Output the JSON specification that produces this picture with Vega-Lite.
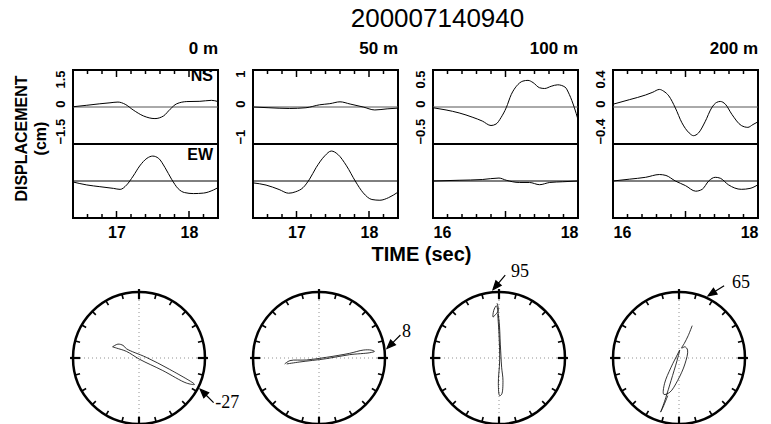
{
  "$schema": "https://vega.github.io/schema/vega-lite/v6.json",
  "background": "white",
  "padding": {"left": 11, "top": 6, "right": 5, "bottom": 0},
  "title": {"text": "200007140940", "fontSize": 26, "fontWeight": "normal", "font": "Liberation Sans", "anchor": "middle", "offset": 7, "dx": 51, "color": "black"},
  "columns": 4,
  "spacing": {"row": 74, "column": 35},
  "bounds": "flush",
  "concat": [
    {
      "width": 145, "height": 148,
      "title": {"text": "0 m", "anchor": "end", "frame": "group", "fontSize": 17, "fontWeight": "bold", "font": "Liberation Sans", "offset": 9, "color": "black"},
      "view": {"stroke": "black", "strokeWidth": 2},
      "layer": [
        {"data": {"values": [{}]}, "mark": {"type": "rule", "color": "#555", "strokeWidth": 1}, "encoding": {"y": {"datum": 0}}},
        {"data": {"values": [{}]}, "mark": {"type": "rule", "color": "black", "strokeWidth": 1}, "encoding": {"y": {"datum": -3}}},
        {"data": {"values": [{}]}, "mark": {"type": "rule", "color": "black", "strokeWidth": 2}, "encoding": {"y": {"datum": -1.5}}},
        {"data": {"values": [{"t": 17}, {"t": 18}]}, "mark": {"type": "point", "shape": "M0,0L0,-1", "size": 196, "filled": false, "stroke": "black", "strokeWidth": 1.5, "opacity": 1},
         "encoding": {"x": {"field": "t", "type": "quantitative"}, "y": {"datum": -4.5}}},
        {"data": {"values": [{"t": 17}, {"t": 18}]}, "mark": {"type": "point", "shape": "M0,0L0,1", "size": 196, "filled": false, "stroke": "black", "strokeWidth": 1.5, "opacity": 1},
         "encoding": {"x": {"field": "t", "type": "quantitative"}, "y": {"datum": 1.5}}},
        {"data": {"values": [{"t": 16.6}, {"t": 16.8}, {"t": 17.2}, {"t": 17.4}, {"t": 17.6}, {"t": 17.8}, {"t": 18.2}]}, "mark": {"type": "point", "shape": "M0,0L0,-1", "size": 64, "filled": false, "stroke": "black", "strokeWidth": 1.5, "opacity": 1},
         "encoding": {"x": {"field": "t", "type": "quantitative"}, "y": {"datum": -4.5}}},
        {"data": {"values": [{"t": 16.6}, {"t": 16.8}, {"t": 17.2}, {"t": 17.4}, {"t": 17.6}, {"t": 17.8}, {"t": 18.2}]}, "mark": {"type": "point", "shape": "M0,0L0,1", "size": 64, "filled": false, "stroke": "black", "strokeWidth": 1.5, "opacity": 1},
         "encoding": {"x": {"field": "t", "type": "quantitative"}, "y": {"datum": 1.5}}},
        {"data": {"name": "ns0"}, "mark": {"type": "line", "color": "black", "strokeWidth": 1, "interpolate": "monotone"},
         "encoding": {
           "x": {"field": "t", "type": "quantitative", "scale": {"domain": [16.4, 18.4], "nice": false, "zero": false},
                 "axis": {"orient": "bottom", "values": [17, 18], "format": "d", "title": null, "domain": false, "grid": false, "ticks": false,
                          "labelFont": "Liberation Sans", "labelFontSize": 16, "labelFontWeight": "bold", "labelColor": "black", "labelPadding": 6, "labelOverlap": false}},
           "y": {"field": "v", "type": "quantitative", "scale": {"domain": [-4.5, 1.5], "nice": false, "zero": false},
                 "axis": {"values": [1.5, 0, -1.5], "labelExpr": "datum.value == 0 ? '0' : format(datum.value, '.1f')", "ticks": false, "domain": false, "grid": false, "labelAngle": 270, "labelBaseline": "bottom",
                          "labelAlign": {"condition": {"test": "datum.value < 0", "value": "left"}, "value": "right"},
                          "labelOffset": {"condition": {"test": "datum.value == 0", "value": -7}, "value": 0},
                          "labelFont": "Liberation Sans", "labelFontSize": 13, "labelFontWeight": "bold", "labelColor": "black", "labelPadding": 6,
                          "title": ["DISPLACEMENT", "(cm)"], "titleFont": "Liberation Sans", "titleFontSize": 16, "titleFontWeight": "bold", "titleColor": "black", "titleLineHeight": 19, "titleY": 68, "titlePadding": 6}}
         }},
        {"data": {"name": "ew0"}, "transform": [{"calculate": "datum.v - 3", "as": "vs"}],
         "mark": {"type": "line", "color": "black", "strokeWidth": 1, "interpolate": "monotone"},
         "encoding": {"x": {"field": "t", "type": "quantitative"}, "y": {"field": "vs", "type": "quantitative"}}},
        {"data": {"values": [{"lab": "NS"}]}, "mark": {"type": "text", "align": "right", "baseline": "top", "dx": -5, "dy": -2, "font": "Liberation Sans", "fontSize": 16, "fontWeight": "bold", "color": "black"},
         "encoding": {"x": {"datum": 18.4}, "y": {"datum": 1.5}, "text": {"field": "lab"}}},
        {"data": {"values": [{"lab": "EW"}]}, "mark": {"type": "text", "align": "right", "baseline": "top", "dx": -5, "dy": 3, "font": "Liberation Sans", "fontSize": 16, "fontWeight": "bold", "color": "black"},
         "encoding": {"x": {"datum": 18.4}, "y": {"datum": -1.5}, "text": {"field": "lab"}}}
      ]
    },
    {
      "width": 145, "height": 148,
      "title": {"text": "50 m", "anchor": "end", "frame": "group", "fontSize": 17, "fontWeight": "bold", "font": "Liberation Sans", "offset": 9, "color": "black"},
      "view": {"stroke": "black", "strokeWidth": 2},
      "layer": [
        {"data": {"values": [{}]}, "mark": {"type": "rule", "color": "#555", "strokeWidth": 1}, "encoding": {"y": {"datum": 0}}},
        {"data": {"values": [{}]}, "mark": {"type": "rule", "color": "black", "strokeWidth": 1}, "encoding": {"y": {"datum": -2}}},
        {"data": {"values": [{}]}, "mark": {"type": "rule", "color": "black", "strokeWidth": 2}, "encoding": {"y": {"datum": -1}}},
        {"data": {"values": [{"t": 17}, {"t": 18}]}, "mark": {"type": "point", "shape": "M0,0L0,-1", "size": 196, "filled": false, "stroke": "black", "strokeWidth": 1.5, "opacity": 1},
         "encoding": {"x": {"field": "t", "type": "quantitative"}, "y": {"datum": -3}}},
        {"data": {"values": [{"t": 17}, {"t": 18}]}, "mark": {"type": "point", "shape": "M0,0L0,1", "size": 196, "filled": false, "stroke": "black", "strokeWidth": 1.5, "opacity": 1},
         "encoding": {"x": {"field": "t", "type": "quantitative"}, "y": {"datum": 1}}},
        {"data": {"values": [{"t": 16.6}, {"t": 16.8}, {"t": 17.2}, {"t": 17.4}, {"t": 17.6}, {"t": 17.8}, {"t": 18.2}]}, "mark": {"type": "point", "shape": "M0,0L0,-1", "size": 64, "filled": false, "stroke": "black", "strokeWidth": 1.5, "opacity": 1},
         "encoding": {"x": {"field": "t", "type": "quantitative"}, "y": {"datum": -3}}},
        {"data": {"values": [{"t": 16.6}, {"t": 16.8}, {"t": 17.2}, {"t": 17.4}, {"t": 17.6}, {"t": 17.8}, {"t": 18.2}]}, "mark": {"type": "point", "shape": "M0,0L0,1", "size": 64, "filled": false, "stroke": "black", "strokeWidth": 1.5, "opacity": 1},
         "encoding": {"x": {"field": "t", "type": "quantitative"}, "y": {"datum": 1}}},
        {"data": {"name": "ns50"}, "mark": {"type": "line", "color": "black", "strokeWidth": 1, "interpolate": "monotone"},
         "encoding": {
           "x": {"field": "t", "type": "quantitative", "scale": {"domain": [16.4, 18.4], "nice": false, "zero": false},
                 "axis": {"orient": "bottom", "values": [17, 18], "format": "d", "domain": false, "grid": false, "ticks": false,
                          "labelFont": "Liberation Sans", "labelFontSize": 16, "labelFontWeight": "bold", "labelColor": "black", "labelPadding": 6, "labelOverlap": false,
                          "title": "TIME (sec)", "titleX": 168, "titleY": 26, "titleAlign": "center", "titleBaseline": "top", "titleFont": "Liberation Sans", "titleFontSize": 20, "titleFontWeight": "bold", "titleColor": "black"}},
           "y": {"field": "v", "type": "quantitative", "scale": {"domain": [-3, 1], "nice": false, "zero": false},
                 "axis": {"values": [1, 0, -1], "labelExpr": "datum.value == 0 ? '0' : format(datum.value, 'd')", "ticks": false, "domain": false, "grid": false, "labelAngle": 270, "labelBaseline": "bottom",
                          "labelAlign": {"condition": {"test": "datum.value < 0", "value": "left"}, "value": "right"},
                          "labelOffset": {"condition": {"test": "datum.value == 0", "value": -7}, "value": 0},
                          "labelFont": "Liberation Sans", "labelFontSize": 13, "labelFontWeight": "bold", "labelColor": "black", "labelPadding": 6, "title": null}}
         }},
        {"data": {"name": "ew50"}, "transform": [{"calculate": "datum.v - 2", "as": "vs"}],
         "mark": {"type": "line", "color": "black", "strokeWidth": 1, "interpolate": "monotone"},
         "encoding": {"x": {"field": "t", "type": "quantitative"}, "y": {"field": "vs", "type": "quantitative"}}}
      ]
    },
    {
      "width": 145, "height": 148,
      "title": {"text": "100 m", "anchor": "end", "frame": "group", "fontSize": 17, "fontWeight": "bold", "font": "Liberation Sans", "offset": 9, "color": "black"},
      "view": {"stroke": "black", "strokeWidth": 2},
      "layer": [
        {"data": {"values": [{}]}, "mark": {"type": "rule", "color": "#555", "strokeWidth": 1}, "encoding": {"y": {"datum": 0}}},
        {"data": {"values": [{}]}, "mark": {"type": "rule", "color": "black", "strokeWidth": 1}, "encoding": {"y": {"datum": -1}}},
        {"data": {"values": [{}]}, "mark": {"type": "rule", "color": "black", "strokeWidth": 2}, "encoding": {"y": {"datum": -0.5}}},
        {"data": {"values": [{"t": 17}]}, "mark": {"type": "point", "shape": "M0,0L0,-1", "size": 196, "filled": false, "stroke": "black", "strokeWidth": 1.5, "opacity": 1},
         "encoding": {"x": {"field": "t", "type": "quantitative"}, "y": {"datum": -1.5}}},
        {"data": {"values": [{"t": 17}]}, "mark": {"type": "point", "shape": "M0,0L0,1", "size": 196, "filled": false, "stroke": "black", "strokeWidth": 1.5, "opacity": 1},
         "encoding": {"x": {"field": "t", "type": "quantitative"}, "y": {"datum": 0.5}}},
        {"data": {"values": [{"t": 16.2}, {"t": 16.4}, {"t": 16.6}, {"t": 16.8}, {"t": 17.2}, {"t": 17.4}, {"t": 17.6}, {"t": 17.8}]}, "mark": {"type": "point", "shape": "M0,0L0,-1", "size": 64, "filled": false, "stroke": "black", "strokeWidth": 1.5, "opacity": 1},
         "encoding": {"x": {"field": "t", "type": "quantitative"}, "y": {"datum": -1.5}}},
        {"data": {"values": [{"t": 16.2}, {"t": 16.4}, {"t": 16.6}, {"t": 16.8}, {"t": 17.2}, {"t": 17.4}, {"t": 17.6}, {"t": 17.8}]}, "mark": {"type": "point", "shape": "M0,0L0,1", "size": 64, "filled": false, "stroke": "black", "strokeWidth": 1.5, "opacity": 1},
         "encoding": {"x": {"field": "t", "type": "quantitative"}, "y": {"datum": 0.5}}},
        {"data": {"name": "ns100"}, "mark": {"type": "line", "color": "black", "strokeWidth": 1, "interpolate": "monotone"},
         "encoding": {
           "x": {"field": "t", "type": "quantitative", "scale": {"domain": [16, 18], "nice": false, "zero": false},
                 "axis": {"orient": "bottom", "values": [16, 17, 18], "format": "d", "title": null, "domain": false, "grid": false, "ticks": false,
                          "labelFont": "Liberation Sans", "labelFontSize": 16, "labelFontWeight": "bold", "labelColor": "black", "labelPadding": 6, "labelOverlap": false, "labelFlush": true}},
           "y": {"field": "v", "type": "quantitative", "scale": {"domain": [-1.5, 0.5], "nice": false, "zero": false},
                 "axis": {"values": [0.5, 0, -0.5], "labelExpr": "datum.value == 0 ? '0' : format(datum.value, '.1f')", "ticks": false, "domain": false, "grid": false, "labelAngle": 270, "labelBaseline": "bottom",
                          "labelAlign": {"condition": {"test": "datum.value < 0", "value": "left"}, "value": "right"},
                          "labelOffset": {"condition": {"test": "datum.value == 0", "value": -7}, "value": 0},
                          "labelFont": "Liberation Sans", "labelFontSize": 13, "labelFontWeight": "bold", "labelColor": "black", "labelPadding": 6, "title": null}}
         }},
        {"data": {"name": "ew100"}, "transform": [{"calculate": "datum.v - 1", "as": "vs"}],
         "mark": {"type": "line", "color": "black", "strokeWidth": 1, "interpolate": "monotone"},
         "encoding": {"x": {"field": "t", "type": "quantitative"}, "y": {"field": "vs", "type": "quantitative"}}}
      ]
    },
    {
      "width": 145, "height": 148,
      "title": {"text": "200 m", "anchor": "end", "frame": "group", "fontSize": 17, "fontWeight": "bold", "font": "Liberation Sans", "offset": 9, "color": "black"},
      "view": {"stroke": "black", "strokeWidth": 2},
      "layer": [
        {"data": {"values": [{}]}, "mark": {"type": "rule", "color": "#555", "strokeWidth": 1}, "encoding": {"y": {"datum": 0}}},
        {"data": {"values": [{}]}, "mark": {"type": "rule", "color": "black", "strokeWidth": 1}, "encoding": {"y": {"datum": -0.8}}},
        {"data": {"values": [{}]}, "mark": {"type": "rule", "color": "black", "strokeWidth": 2}, "encoding": {"y": {"datum": -0.4}}},
        {"data": {"values": [{"t": 17}]}, "mark": {"type": "point", "shape": "M0,0L0,-1", "size": 196, "filled": false, "stroke": "black", "strokeWidth": 1.5, "opacity": 1},
         "encoding": {"x": {"field": "t", "type": "quantitative"}, "y": {"datum": -1.2}}},
        {"data": {"values": [{"t": 17}]}, "mark": {"type": "point", "shape": "M0,0L0,1", "size": 196, "filled": false, "stroke": "black", "strokeWidth": 1.5, "opacity": 1},
         "encoding": {"x": {"field": "t", "type": "quantitative"}, "y": {"datum": 0.4}}},
        {"data": {"values": [{"t": 16.2}, {"t": 16.4}, {"t": 16.6}, {"t": 16.8}, {"t": 17.2}, {"t": 17.4}, {"t": 17.6}, {"t": 17.8}]}, "mark": {"type": "point", "shape": "M0,0L0,-1", "size": 64, "filled": false, "stroke": "black", "strokeWidth": 1.5, "opacity": 1},
         "encoding": {"x": {"field": "t", "type": "quantitative"}, "y": {"datum": -1.2}}},
        {"data": {"values": [{"t": 16.2}, {"t": 16.4}, {"t": 16.6}, {"t": 16.8}, {"t": 17.2}, {"t": 17.4}, {"t": 17.6}, {"t": 17.8}]}, "mark": {"type": "point", "shape": "M0,0L0,1", "size": 64, "filled": false, "stroke": "black", "strokeWidth": 1.5, "opacity": 1},
         "encoding": {"x": {"field": "t", "type": "quantitative"}, "y": {"datum": 0.4}}},
        {"data": {"name": "ns200"}, "mark": {"type": "line", "color": "black", "strokeWidth": 1, "interpolate": "monotone"},
         "encoding": {
           "x": {"field": "t", "type": "quantitative", "scale": {"domain": [16, 18], "nice": false, "zero": false},
                 "axis": {"orient": "bottom", "values": [16, 17, 18], "format": "d", "title": null, "domain": false, "grid": false, "ticks": false,
                          "labelFont": "Liberation Sans", "labelFontSize": 16, "labelFontWeight": "bold", "labelColor": "black", "labelPadding": 6, "labelOverlap": false, "labelFlush": true}},
           "y": {"field": "v", "type": "quantitative", "scale": {"domain": [-1.2, 0.4], "nice": false, "zero": false},
                 "axis": {"values": [0.4, 0, -0.4], "labelExpr": "datum.value == 0 ? '0' : format(datum.value, '.1f')", "ticks": false, "domain": false, "grid": false, "labelAngle": 270, "labelBaseline": "bottom",
                          "labelAlign": {"condition": {"test": "datum.value < 0", "value": "left"}, "value": "right"},
                          "labelOffset": {"condition": {"test": "datum.value == 0", "value": -7}, "value": 0},
                          "labelFont": "Liberation Sans", "labelFontSize": 13, "labelFontWeight": "bold", "labelColor": "black", "labelPadding": 6, "title": null}}
         }},
        {"data": {"name": "ew200"}, "transform": [{"calculate": "datum.v - 0.8", "as": "vs"}],
         "mark": {"type": "line", "color": "black", "strokeWidth": 1, "interpolate": "monotone"},
         "encoding": {"x": {"field": "t", "type": "quantitative"}, "y": {"field": "vs", "type": "quantitative"}}}
      ]
    },
    {
      "width": 132, "height": 132,
      "layer": [
        {"data": {"values": [{}]}, "mark": {"type": "rule", "color": "#777", "strokeWidth": 0.8, "strokeDash": [1, 3]}, "encoding": {"x": {"datum": 0, "scale": {"domain": [-1, 1], "nice": false, "zero": false}, "axis": null}}},
        {"data": {"values": [{}]}, "mark": {"type": "rule", "color": "#777", "strokeWidth": 0.8, "strokeDash": [1, 3]}, "encoding": {"y": {"datum": 0, "scale": {"domain": [-1, 1], "nice": false, "zero": false}, "axis": null}}},
        {"data": {"values": [{}]}, "mark": {"type": "point", "shape": "circle", "size": 17424, "filled": false, "stroke": "black", "strokeWidth": 2.5, "opacity": 1}, "encoding": {"x": {"datum": 0, "axis": null}, "y": {"datum": 0, "axis": null}}},
        {"data": {"name": "ticks"}, "mark": {"type": "point", "shape": "M0,-1L0,-0.925", "size": 17424, "filled": false, "stroke": "black", "strokeWidth": 1.6, "opacity": 1},
         "encoding": {"x": {"datum": 0, "axis": null}, "y": {"datum": 0, "axis": null}, "angle": {"field": "a", "type": "quantitative", "scale": {"domain": [0, 360], "range": [0, 360]}}}},
        {"data": {"name": "ticks"}, "transform": [{"filter": "datum.a % 90 == 0"}], "mark": {"type": "point", "shape": "M0,-1.045L0,-0.89", "size": 17424, "filled": false, "stroke": "black", "strokeWidth": 2.2, "opacity": 1},
         "encoding": {"x": {"datum": 0, "axis": null}, "y": {"datum": 0, "axis": null}, "angle": {"field": "a", "type": "quantitative", "scale": {"domain": [0, 360], "range": [0, 360]}}}},
        {"data": {"name": "h0"}, "mark": {"type": "line", "color": "black", "strokeWidth": 0.8, "interpolate": "catmull-rom"},
         "encoding": {"x": {"field": "EW", "type": "quantitative", "axis": null}, "y": {"field": "NS", "type": "quantitative", "axis": null}, "order": {"field": "i"}}},
        {"data": {"values": [{"angle": -27}]}, "transform": [{"calculate": "cos(datum.angle*PI/180)*1.04", "as": "tx"}, {"calculate": "sin(datum.angle*PI/180)*1.04", "as": "ty"}],
         "layer": [
           {"mark": {"type": "point", "shape": "M0,0L-0.18,0.45L0.18,0.45Z M0,0.4L0,1", "size": 1444, "filled": true, "fill": "black", "stroke": "black", "strokeWidth": 1.2, "opacity": 1, "angle": 315},
            "encoding": {"x": {"field": "tx", "type": "quantitative", "axis": null}, "y": {"field": "ty", "type": "quantitative", "axis": null}}},
           {"mark": {"type": "text", "align": "left", "baseline": "middle", "dx": 15, "dy": 14, "font": "Liberation Serif", "fontSize": 18, "color": "black"},
            "encoding": {"x": {"field": "tx", "type": "quantitative", "axis": null}, "y": {"field": "ty", "type": "quantitative", "axis": null}, "text": {"field": "angle", "type": "nominal"}}}
         ]}
      ]
    },
    {
      "width": 132, "height": 132,
      "layer": [
        {"data": {"values": [{}]}, "mark": {"type": "rule", "color": "#777", "strokeWidth": 0.8, "strokeDash": [1, 3]}, "encoding": {"x": {"datum": 0, "scale": {"domain": [-1, 1], "nice": false, "zero": false}, "axis": null}}},
        {"data": {"values": [{}]}, "mark": {"type": "rule", "color": "#777", "strokeWidth": 0.8, "strokeDash": [1, 3]}, "encoding": {"y": {"datum": 0, "scale": {"domain": [-1, 1], "nice": false, "zero": false}, "axis": null}}},
        {"data": {"values": [{}]}, "mark": {"type": "point", "shape": "circle", "size": 17424, "filled": false, "stroke": "black", "strokeWidth": 2.5, "opacity": 1}, "encoding": {"x": {"datum": 0, "axis": null}, "y": {"datum": 0, "axis": null}}},
        {"data": {"name": "ticks"}, "mark": {"type": "point", "shape": "M0,-1L0,-0.925", "size": 17424, "filled": false, "stroke": "black", "strokeWidth": 1.6, "opacity": 1},
         "encoding": {"x": {"datum": 0, "axis": null}, "y": {"datum": 0, "axis": null}, "angle": {"field": "a", "type": "quantitative", "scale": {"domain": [0, 360], "range": [0, 360]}}}},
        {"data": {"name": "ticks"}, "transform": [{"filter": "datum.a % 90 == 0"}], "mark": {"type": "point", "shape": "M0,-1.045L0,-0.89", "size": 17424, "filled": false, "stroke": "black", "strokeWidth": 2.2, "opacity": 1},
         "encoding": {"x": {"datum": 0, "axis": null}, "y": {"datum": 0, "axis": null}, "angle": {"field": "a", "type": "quantitative", "scale": {"domain": [0, 360], "range": [0, 360]}}}},
        {"data": {"name": "h50"}, "mark": {"type": "line", "color": "black", "strokeWidth": 0.8, "interpolate": "catmull-rom"},
         "encoding": {"x": {"field": "EW", "type": "quantitative", "axis": null}, "y": {"field": "NS", "type": "quantitative", "axis": null}, "order": {"field": "i"}}},
        {"data": {"values": [{"angle": 8}]}, "transform": [{"calculate": "cos(datum.angle*PI/180)*1.04", "as": "tx"}, {"calculate": "sin(datum.angle*PI/180)*1.04", "as": "ty"}],
         "layer": [
           {"mark": {"type": "point", "shape": "M0,0L-0.18,0.45L0.18,0.45Z M0,0.4L0,1", "size": 1444, "filled": true, "fill": "black", "stroke": "black", "strokeWidth": 1.2, "opacity": 1, "angle": 225},
            "encoding": {"x": {"field": "tx", "type": "quantitative", "axis": null}, "y": {"field": "ty", "type": "quantitative", "axis": null}}},
           {"mark": {"type": "text", "align": "left", "baseline": "middle", "dx": 15, "dy": -16, "font": "Liberation Serif", "fontSize": 18, "color": "black"},
            "encoding": {"x": {"field": "tx", "type": "quantitative", "axis": null}, "y": {"field": "ty", "type": "quantitative", "axis": null}, "text": {"field": "angle", "type": "nominal"}}}
         ]}
      ]
    },
    {
      "width": 132, "height": 132,
      "layer": [
        {"data": {"values": [{}]}, "mark": {"type": "rule", "color": "#777", "strokeWidth": 0.8, "strokeDash": [1, 3]}, "encoding": {"x": {"datum": 0, "scale": {"domain": [-1, 1], "nice": false, "zero": false}, "axis": null}}},
        {"data": {"values": [{}]}, "mark": {"type": "rule", "color": "#777", "strokeWidth": 0.8, "strokeDash": [1, 3]}, "encoding": {"y": {"datum": 0, "scale": {"domain": [-1, 1], "nice": false, "zero": false}, "axis": null}}},
        {"data": {"values": [{}]}, "mark": {"type": "point", "shape": "circle", "size": 17424, "filled": false, "stroke": "black", "strokeWidth": 2.5, "opacity": 1}, "encoding": {"x": {"datum": 0, "axis": null}, "y": {"datum": 0, "axis": null}}},
        {"data": {"name": "ticks"}, "mark": {"type": "point", "shape": "M0,-1L0,-0.925", "size": 17424, "filled": false, "stroke": "black", "strokeWidth": 1.6, "opacity": 1},
         "encoding": {"x": {"datum": 0, "axis": null}, "y": {"datum": 0, "axis": null}, "angle": {"field": "a", "type": "quantitative", "scale": {"domain": [0, 360], "range": [0, 360]}}}},
        {"data": {"name": "ticks"}, "transform": [{"filter": "datum.a % 90 == 0"}], "mark": {"type": "point", "shape": "M0,-1.045L0,-0.89", "size": 17424, "filled": false, "stroke": "black", "strokeWidth": 2.2, "opacity": 1},
         "encoding": {"x": {"datum": 0, "axis": null}, "y": {"datum": 0, "axis": null}, "angle": {"field": "a", "type": "quantitative", "scale": {"domain": [0, 360], "range": [0, 360]}}}},
        {"data": {"name": "h100"}, "mark": {"type": "line", "color": "black", "strokeWidth": 0.8, "interpolate": "catmull-rom"},
         "encoding": {"x": {"field": "EW", "type": "quantitative", "axis": null}, "y": {"field": "NS", "type": "quantitative", "axis": null}, "order": {"field": "i"}}},
        {"data": {"values": [{"angle": 95}]}, "transform": [{"calculate": "cos(datum.angle*PI/180)*1.04", "as": "tx"}, {"calculate": "sin(datum.angle*PI/180)*1.04", "as": "ty"}],
         "layer": [
           {"mark": {"type": "point", "shape": "M0,0L-0.18,0.45L0.18,0.45Z M0,0.4L0,1", "size": 1444, "filled": true, "fill": "black", "stroke": "black", "strokeWidth": 1.2, "opacity": 1, "angle": 220},
            "encoding": {"x": {"field": "tx", "type": "quantitative", "axis": null}, "y": {"field": "ty", "type": "quantitative", "axis": null}}},
           {"mark": {"type": "text", "align": "left", "baseline": "middle", "dx": 18, "dy": -18, "font": "Liberation Serif", "fontSize": 18, "color": "black"},
            "encoding": {"x": {"field": "tx", "type": "quantitative", "axis": null}, "y": {"field": "ty", "type": "quantitative", "axis": null}, "text": {"field": "angle", "type": "nominal"}}}
         ]}
      ]
    },
    {
      "width": 132, "height": 132,
      "layer": [
        {"data": {"values": [{}]}, "mark": {"type": "rule", "color": "#777", "strokeWidth": 0.8, "strokeDash": [1, 3]}, "encoding": {"x": {"datum": 0, "scale": {"domain": [-1, 1], "nice": false, "zero": false}, "axis": null}}},
        {"data": {"values": [{}]}, "mark": {"type": "rule", "color": "#777", "strokeWidth": 0.8, "strokeDash": [1, 3]}, "encoding": {"y": {"datum": 0, "scale": {"domain": [-1, 1], "nice": false, "zero": false}, "axis": null}}},
        {"data": {"values": [{}]}, "mark": {"type": "point", "shape": "circle", "size": 17424, "filled": false, "stroke": "black", "strokeWidth": 2.5, "opacity": 1}, "encoding": {"x": {"datum": 0, "axis": null}, "y": {"datum": 0, "axis": null}}},
        {"data": {"name": "ticks"}, "mark": {"type": "point", "shape": "M0,-1L0,-0.925", "size": 17424, "filled": false, "stroke": "black", "strokeWidth": 1.6, "opacity": 1},
         "encoding": {"x": {"datum": 0, "axis": null}, "y": {"datum": 0, "axis": null}, "angle": {"field": "a", "type": "quantitative", "scale": {"domain": [0, 360], "range": [0, 360]}}}},
        {"data": {"name": "ticks"}, "transform": [{"filter": "datum.a % 90 == 0"}], "mark": {"type": "point", "shape": "M0,-1.045L0,-0.89", "size": 17424, "filled": false, "stroke": "black", "strokeWidth": 2.2, "opacity": 1},
         "encoding": {"x": {"datum": 0, "axis": null}, "y": {"datum": 0, "axis": null}, "angle": {"field": "a", "type": "quantitative", "scale": {"domain": [0, 360], "range": [0, 360]}}}},
        {"data": {"name": "h200"}, "mark": {"type": "line", "color": "black", "strokeWidth": 0.8, "interpolate": "catmull-rom"},
         "encoding": {"x": {"field": "EW", "type": "quantitative", "axis": null}, "y": {"field": "NS", "type": "quantitative", "axis": null}, "order": {"field": "i"}}},
        {"data": {"values": [{"angle": 65}]}, "transform": [{"calculate": "cos(datum.angle*PI/180)*1.04", "as": "tx"}, {"calculate": "sin(datum.angle*PI/180)*1.04", "as": "ty"}],
         "layer": [
           {"mark": {"type": "point", "shape": "M0,0L-0.18,0.45L0.18,0.45Z M0,0.4L0,1", "size": 1444, "filled": true, "fill": "black", "stroke": "black", "strokeWidth": 1.2, "opacity": 1, "angle": 238},
            "encoding": {"x": {"field": "tx", "type": "quantitative", "axis": null}, "y": {"field": "ty", "type": "quantitative", "axis": null}}},
           {"mark": {"type": "text", "align": "left", "baseline": "middle", "dx": 24, "dy": -13, "font": "Liberation Serif", "fontSize": 18, "color": "black"},
            "encoding": {"x": {"field": "tx", "type": "quantitative", "axis": null}, "y": {"field": "ty", "type": "quantitative", "axis": null}, "text": {"field": "angle", "type": "nominal"}}}
         ]}
      ]
    }
  ],
  "datasets": {
    "ns0": [
      {"t": 16.40, "v": 0.01}, {"t": 16.59, "v": 0.07}, {"t": 16.77, "v": 0.13}, {"t": 16.91, "v": 0.17}, {"t": 17.02, "v": 0.20},
      {"t": 17.12, "v": 0.11}, {"t": 17.23, "v": -0.12}, {"t": 17.37, "v": -0.36}, {"t": 17.53, "v": -0.47}, {"t": 17.65, "v": -0.36},
      {"t": 17.74, "v": -0.09}, {"t": 17.83, "v": 0.13}, {"t": 17.97, "v": 0.22}, {"t": 18.15, "v": 0.23}, {"t": 18.31, "v": 0.27}, {"t": 18.40, "v": 0.22}
    ],
    "ew0": [
      {"t": 16.40, "v": -0.04}, {"t": 16.59, "v": -0.16}, {"t": 16.77, "v": -0.23}, {"t": 16.96, "v": -0.30}, {"t": 17.05, "v": -0.34},
      {"t": 17.14, "v": -0.16}, {"t": 17.23, "v": 0.20}, {"t": 17.32, "v": 0.61}, {"t": 17.42, "v": 0.92}, {"t": 17.50, "v": 1.01},
      {"t": 17.58, "v": 0.92}, {"t": 17.67, "v": 0.54}, {"t": 17.76, "v": 0.07}, {"t": 17.85, "v": -0.31}, {"t": 17.94, "v": -0.47},
      {"t": 18.06, "v": -0.51}, {"t": 18.20, "v": -0.49}, {"t": 18.34, "v": -0.36}, {"t": 18.40, "v": -0.27}
    ],
    "ns50": [
      {"t": 16.40, "v": 0.0}, {"t": 16.62, "v": -0.02}, {"t": 16.90, "v": -0.04}, {"t": 17.13, "v": -0.02}, {"t": 17.32, "v": 0.06},
      {"t": 17.46, "v": 0.09}, {"t": 17.60, "v": 0.14}, {"t": 17.74, "v": 0.08}, {"t": 17.92, "v": 0.0}, {"t": 18.08, "v": -0.08},
      {"t": 18.25, "v": -0.05}, {"t": 18.40, "v": -0.03}
    ],
    "ew50": [
      {"t": 16.40, "v": -0.05}, {"t": 16.58, "v": -0.11}, {"t": 16.76, "v": -0.23}, {"t": 16.89, "v": -0.33}, {"t": 16.99, "v": -0.29},
      {"t": 17.09, "v": -0.18}, {"t": 17.18, "v": 0.05}, {"t": 17.27, "v": 0.36}, {"t": 17.39, "v": 0.68}, {"t": 17.48, "v": 0.81},
      {"t": 17.57, "v": 0.72}, {"t": 17.69, "v": 0.41}, {"t": 17.81, "v": 0.0}, {"t": 17.92, "v": -0.32}, {"t": 18.04, "v": -0.50},
      {"t": 18.15, "v": -0.52}, {"t": 18.27, "v": -0.45}, {"t": 18.40, "v": -0.30}
    ],
    "ns100": [
      {"t": 16.00, "v": -0.01}, {"t": 16.18, "v": -0.04}, {"t": 16.36, "v": -0.08}, {"t": 16.55, "v": -0.14}, {"t": 16.68, "v": -0.19},
      {"t": 16.80, "v": -0.25}, {"t": 16.87, "v": -0.23}, {"t": 16.94, "v": -0.14}, {"t": 17.01, "v": -0.01}, {"t": 17.08, "v": 0.17},
      {"t": 17.15, "v": 0.28}, {"t": 17.24, "v": 0.35}, {"t": 17.31, "v": 0.36}, {"t": 17.38, "v": 0.33}, {"t": 17.47, "v": 0.26},
      {"t": 17.54, "v": 0.25}, {"t": 17.63, "v": 0.28}, {"t": 17.72, "v": 0.30}, {"t": 17.82, "v": 0.27}, {"t": 17.88, "v": 0.17},
      {"t": 17.95, "v": -0.01}, {"t": 18.00, "v": -0.17}
    ],
    "ew100": [
      {"t": 16.00, "v": 0.0}, {"t": 16.36, "v": 0.01}, {"t": 16.68, "v": 0.02}, {"t": 16.91, "v": 0.04}, {"t": 17.01, "v": 0.01},
      {"t": 17.19, "v": -0.02}, {"t": 17.33, "v": -0.02}, {"t": 17.47, "v": -0.05}, {"t": 17.61, "v": -0.02}, {"t": 17.79, "v": -0.01}, {"t": 18.00, "v": 0.0}
    ],
    "ns200": [
      {"t": 16.00, "v": 0.03}, {"t": 16.23, "v": 0.08}, {"t": 16.45, "v": 0.13}, {"t": 16.55, "v": 0.16}, {"t": 16.64, "v": 0.19},
      {"t": 16.70, "v": 0.17}, {"t": 16.77, "v": 0.12}, {"t": 16.86, "v": -0.01}, {"t": 16.95, "v": -0.17}, {"t": 17.05, "v": -0.28},
      {"t": 17.11, "v": -0.31}, {"t": 17.18, "v": -0.28}, {"t": 17.27, "v": -0.16}, {"t": 17.36, "v": -0.01}, {"t": 17.43, "v": 0.05},
      {"t": 17.48, "v": 0.06}, {"t": 17.55, "v": 0.03}, {"t": 17.64, "v": -0.08}, {"t": 17.77, "v": -0.20}, {"t": 17.86, "v": -0.22},
      {"t": 17.93, "v": -0.19}, {"t": 18.00, "v": -0.16}
    ],
    "ew200": [
      {"t": 16.00, "v": 0.0}, {"t": 16.23, "v": 0.02}, {"t": 16.45, "v": 0.04}, {"t": 16.64, "v": 0.07}, {"t": 16.73, "v": 0.06},
      {"t": 16.86, "v": 0.0}, {"t": 17.00, "v": -0.05}, {"t": 17.14, "v": -0.11}, {"t": 17.23, "v": -0.09}, {"t": 17.32, "v": 0.0},
      {"t": 17.41, "v": 0.04}, {"t": 17.48, "v": 0.03}, {"t": 17.59, "v": -0.04}, {"t": 17.77, "v": -0.09}, {"t": 17.89, "v": -0.08}, {"t": 18.00, "v": -0.04}
    ],
    "h0": [
      {"i": 0, "EW": -0.40, "NS": 0.17}, {"i": 1, "EW": -0.32, "NS": 0.21}, {"i": 2, "EW": -0.24, "NS": 0.19}, {"i": 3, "EW": -0.19, "NS": 0.14},
      {"i": 4, "EW": 0.11, "NS": 0.01}, {"i": 5, "EW": 0.46, "NS": -0.17}, {"i": 6, "EW": 0.84, "NS": -0.40}, {"i": 7, "EW": 0.72, "NS": -0.38},
      {"i": 8, "EW": 0.36, "NS": -0.19}, {"i": 9, "EW": 0.01, "NS": -0.02}, {"i": 10, "EW": -0.19, "NS": 0.10}, {"i": 11, "EW": -0.34, "NS": 0.15},
      {"i": 12, "EW": -0.40, "NS": 0.17}
    ],
    "h50": [
      {"i": 0, "EW": -0.52, "NS": -0.09}, {"i": 1, "EW": -0.44, "NS": -0.04}, {"i": 2, "EW": -0.19, "NS": -0.03}, {"i": 3, "EW": 0.11, "NS": 0.01},
      {"i": 4, "EW": 0.46, "NS": 0.07}, {"i": 5, "EW": 0.67, "NS": 0.12}, {"i": 6, "EW": 0.79, "NS": 0.12}, {"i": 7, "EW": 0.84, "NS": 0.10},
      {"i": 8, "EW": 0.77, "NS": 0.08}, {"i": 9, "EW": 0.46, "NS": 0.05}, {"i": 10, "EW": 0.11, "NS": -0.01}, {"i": 11, "EW": -0.29, "NS": -0.06},
      {"i": 12, "EW": -0.49, "NS": -0.09}
    ],
    "h100": [
      {"i": 0, "EW": -0.03, "NS": 0.83}, {"i": 1, "EW": -0.01, "NS": 0.72}, {"i": 2, "EW": -0.07, "NS": 0.64}, {"i": 3, "EW": -0.09, "NS": 0.62},
      {"i": 4, "EW": -0.08, "NS": 0.72}, {"i": 5, "EW": -0.04, "NS": 0.79}, {"i": 6, "EW": 0.0, "NS": 0.57}, {"i": 7, "EW": 0.02, "NS": 0.21},
      {"i": 8, "EW": 0.04, "NS": -0.14}, {"i": 9, "EW": 0.06, "NS": -0.34}, {"i": 10, "EW": 0.04, "NS": -0.55}, {"i": 11, "EW": 0.01, "NS": -0.57},
      {"i": 12, "EW": -0.01, "NS": -0.39}, {"i": 13, "EW": 0.01, "NS": -0.04}, {"i": 14, "EW": 0.0, "NS": 0.36}, {"i": 15, "EW": -0.02, "NS": 0.67}
    ],
    "h200": [
      {"i": 0, "EW": 0.20, "NS": 0.49}, {"i": 1, "EW": 0.14, "NS": 0.34}, {"i": 2, "EW": 0.08, "NS": 0.22}, {"i": 3, "EW": 0.04, "NS": 0.15},
      {"i": 4, "EW": 0.09, "NS": 0.17}, {"i": 5, "EW": 0.13, "NS": 0.12}, {"i": 6, "EW": 0.09, "NS": -0.09}, {"i": 7, "EW": -0.02, "NS": -0.34},
      {"i": 8, "EW": -0.14, "NS": -0.52}, {"i": 9, "EW": -0.23, "NS": -0.55}, {"i": 10, "EW": -0.22, "NS": -0.39}, {"i": 11, "EW": -0.12, "NS": -0.14},
      {"i": 12, "EW": -0.02, "NS": 0.06}, {"i": 13, "EW": 0.01, "NS": 0.12}, {"i": 14, "EW": -0.03, "NS": -0.04}, {"i": 15, "EW": -0.12, "NS": -0.34},
      {"i": 16, "EW": -0.20, "NS": -0.60}, {"i": 17, "EW": -0.27, "NS": -0.80}, {"i": 18, "EW": -0.28, "NS": -0.82}, {"i": 19, "EW": -0.24, "NS": -0.74},
      {"i": 20, "EW": -0.17, "NS": -0.57}
    ],
    "ticks": [
      {"a": 0}, {"a": 15}, {"a": 30}, {"a": 45}, {"a": 60}, {"a": 75}, {"a": 90}, {"a": 105}, {"a": 120}, {"a": 135}, {"a": 150}, {"a": 165},
      {"a": 180}, {"a": 195}, {"a": 210}, {"a": 225}, {"a": 240}, {"a": 255}, {"a": 270}, {"a": 285}, {"a": 300}, {"a": 315}, {"a": 330}, {"a": 345}
    ]
  },
  "config": {"view": {"stroke": null}, "font": "Liberation Sans"}
}
